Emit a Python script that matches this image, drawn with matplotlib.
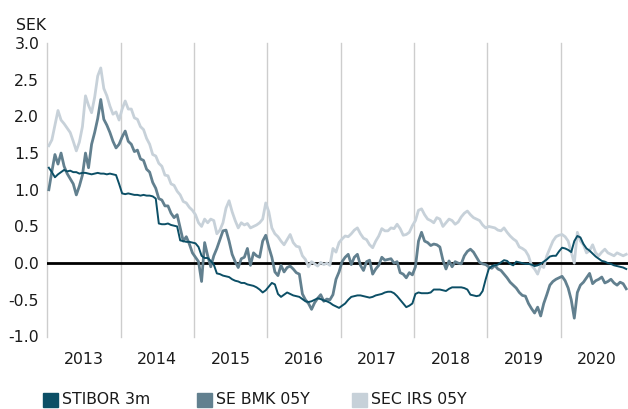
import numpy as np
import matplotlib
matplotlib.use("Agg")
import matplotlib.pyplot as plt
from matplotlib.patches import Rectangle

plt.rcParams["font.family"] = ["DejaVu Sans"]

# Half-monthly fixings, Jan 2013 - Nov 2020 (one row per year)
stibor_3m = [
    1.30, 1.24, 1.17, 1.21, 1.24, 1.27, 1.25, 1.26, 1.24, 1.24, 1.22, 1.23, 1.23, 1.22, 1.21, 1.22, 1.23, 1.22, 1.22, 1.21, 1.22, 1.21, 1.20, 1.08,
    0.95, 0.94, 0.95, 0.94, 0.93, 0.93, 0.92, 0.93, 0.92, 0.92, 0.91, 0.88, 0.54, 0.53, 0.53, 0.54, 0.52, 0.51, 0.50, 0.31, 0.30, 0.29, 0.29, 0.28,
    0.27, 0.22, 0.10, 0.07, 0.07, 0.03, -0.02, -0.14, -0.15, -0.17, -0.18, -0.19, -0.22, -0.24, -0.25, -0.27, -0.27, -0.29, -0.30, -0.31, -0.33, -0.36, -0.40, -0.37,
    -0.32, -0.27, -0.29, -0.42, -0.46, -0.43, -0.40, -0.42, -0.44, -0.45, -0.46, -0.49, -0.52, -0.53, -0.52, -0.50, -0.48, -0.49, -0.51, -0.52, -0.54, -0.57, -0.59, -0.61,
    -0.58, -0.55, -0.50, -0.46, -0.45, -0.44, -0.44, -0.45, -0.46, -0.47, -0.46, -0.44, -0.43, -0.42, -0.40, -0.39, -0.39, -0.41, -0.45, -0.50, -0.55, -0.60, -0.58, -0.55,
    -0.42, -0.40, -0.41, -0.41, -0.41, -0.40, -0.36, -0.36, -0.36, -0.37, -0.38, -0.35, -0.33, -0.33, -0.33, -0.33, -0.34, -0.36, -0.43, -0.44, -0.45, -0.44, -0.38, -0.22,
    -0.08, -0.04, -0.03, -0.02, 0.01, 0.04, 0.03, -0.01, -0.03, 0.02, 0.01, 0.00, -0.01, -0.01, -0.02, -0.04, -0.03, -0.01, 0.02, 0.05, 0.09, 0.10, 0.10, 0.16,
    0.21, 0.20, 0.18, 0.15, 0.30, 0.37, 0.35, 0.26, 0.20, 0.17, 0.13, 0.09, 0.06, 0.03, 0.02, 0.00, -0.01, -0.03, -0.04, -0.05, -0.06, -0.08,
]
se_bmk_05y = [
    1.00, 1.25, 1.48, 1.35, 1.50, 1.32, 1.22, 1.15, 1.08, 0.93, 1.05, 1.20, 1.50, 1.30, 1.62, 1.78, 1.97, 2.23, 1.96, 1.88, 1.78, 1.66, 1.57, 1.62,
    1.72, 1.80, 1.66, 1.62, 1.52, 1.54, 1.42, 1.40, 1.28, 1.24, 1.10, 1.02, 0.88, 0.86, 0.78, 0.78, 0.68, 0.62, 0.66, 0.48, 0.30, 0.36, 0.26, 0.14,
    0.08, 0.02, -0.25, 0.28, 0.10, -0.05, 0.10, 0.20, 0.32, 0.44, 0.45, 0.30, 0.12, 0.02, -0.06, 0.06, 0.08, 0.20, -0.03, 0.14, 0.10, 0.08, 0.30, 0.38,
    0.22, 0.08, -0.12, -0.17, -0.03, -0.12, -0.06, -0.04, -0.08, -0.13, -0.15, -0.42, -0.50, -0.55, -0.63, -0.54, -0.48, -0.43, -0.52, -0.49, -0.50, -0.43, -0.22, -0.12,
    0.02, 0.08, 0.12, -0.02, 0.08, 0.12, -0.03, -0.10, 0.02, 0.04, -0.15, -0.08, -0.03, 0.08, 0.04, 0.05, 0.06, 0.00, 0.02, -0.13, -0.15, -0.20, -0.13, -0.16,
    -0.05, 0.30, 0.42, 0.30, 0.28, 0.24, 0.26, 0.25, 0.22, 0.04, -0.08, 0.03, -0.05, 0.02, 0.00, -0.01, 0.10, 0.16, 0.19, 0.15, 0.08, 0.01, -0.01, -0.02,
    -0.05, -0.07, -0.03, -0.08, -0.10, -0.15, -0.20, -0.26, -0.30, -0.34, -0.40, -0.44, -0.45, -0.55, -0.62, -0.68, -0.60, -0.72, -0.55, -0.43, -0.30, -0.25, -0.22, -0.20,
    -0.18, -0.24, -0.34, -0.50, -0.75, -0.40, -0.30, -0.26, -0.20, -0.14, -0.28, -0.24, -0.22, -0.19, -0.27, -0.25, -0.22, -0.27, -0.30, -0.26, -0.28, -0.35,
]
sec_irs_05y = [
    1.60, 1.68, 1.88, 2.08, 1.95, 1.90, 1.84, 1.78, 1.66, 1.53, 1.65, 1.86, 2.28, 2.15, 2.05, 2.26, 2.55, 2.66, 2.38, 2.28, 2.14, 2.03, 2.06, 1.95,
    2.10, 2.21, 2.10, 2.10, 1.98, 1.96, 1.86, 1.82, 1.70, 1.62, 1.48, 1.46, 1.36, 1.32, 1.20, 1.19, 1.08, 1.06, 0.98, 0.93, 0.84, 0.82, 0.76, 0.72,
    0.66, 0.55, 0.50, 0.60, 0.55, 0.60, 0.58, 0.40, 0.45, 0.55, 0.75, 0.85, 0.70, 0.58, 0.48, 0.55, 0.52, 0.54, 0.48, 0.50, 0.52, 0.55, 0.60, 0.82,
    0.70, 0.48, 0.40, 0.36, 0.30, 0.25, 0.32, 0.39, 0.28, 0.23, 0.22, 0.10, 0.05, -0.05, 0.02, -0.01, -0.04, 0.01, -0.02, 0.00, -0.03, 0.20, 0.15, 0.28,
    0.33, 0.37, 0.36, 0.40, 0.45, 0.48, 0.40, 0.34, 0.32, 0.25, 0.21, 0.30, 0.37, 0.47, 0.44, 0.44, 0.48, 0.47, 0.53, 0.47, 0.38, 0.39, 0.42, 0.51,
    0.58, 0.72, 0.74, 0.66, 0.60, 0.58, 0.55, 0.62, 0.60, 0.50, 0.55, 0.60, 0.58, 0.53, 0.56, 0.63, 0.68, 0.71, 0.66, 0.62, 0.60, 0.58, 0.52, 0.48,
    0.50, 0.49, 0.48, 0.45, 0.44, 0.48, 0.42, 0.37, 0.33, 0.30, 0.22, 0.20, 0.17, 0.10, -0.03, -0.08, -0.15, -0.03, -0.06, 0.10, 0.20, 0.30, 0.36, 0.38,
    0.39, 0.36, 0.30, 0.15, 0.00, 0.42, 0.30, 0.25, 0.14, 0.17, 0.25, 0.14, 0.10, 0.15, 0.19, 0.14, 0.12, 0.10, 0.14, 0.12, 0.10, 0.12,
]

years = [2013, 2014, 2015, 2016, 2017, 2018, 2019, 2020]
y_ticks = [-1.0, -0.5, 0.0, 0.5, 1.0, 1.5, 2.0, 2.5, 3.0]
y_labels = ["-1.0", "-0.5", "0.0", "0.5", "1.0", "1.5", "2.0", "2.5", "3.0"]
series_names = ["STIBOR 3m", "SE BMK 05Y", "SEC IRS 05Y"]
series_colors = ["#0c4f66", "#62808f", "#c7d1d9"]

# decimal-year position of each half-month observation
t = 2013 + (np.arange(len(stibor_3m)) + 0.5) / 24

fig = plt.figure(figsize=(6.28, 4.09), dpi=100)
ax = fig.add_axes([47.3 / 628, 1 - 336.5 / 409, 1 - 47.3 / 628, 293.5 / 409])

for yr in years:
    ax.axvline(yr, color="#cdcdcd", lw=1.0, zorder=0, clip_on=False)
ax.axhline(0, color="black", lw=2.0, zorder=1)

ax.plot(t, sec_irs_05y, color=series_colors[2], lw=2.0, zorder=2)
ax.plot(t, se_bmk_05y, color=series_colors[1], lw=2.0, zorder=3)
ax.plot(t, stibor_3m, color=series_colors[0], lw=1.4, zorder=4)

ax.set_xlim(2013, 2020.92)
ax.set_ylim(-1, 3)
for s in ax.spines.values():
    s.set_visible(False)

ax.set_yticks(y_ticks)
ax.set_yticklabels(y_labels)
ax.set_xticks([y + 0.5 for y in years])
ax.set_xticklabels([str(y) for y in years])
ax.tick_params(axis="y", length=0, pad=5.8, labelsize=11.3, labelcolor="#1a1a1a")
ax.tick_params(axis="x", length=0, pad=11.5, labelsize=11.3, labelcolor="#1a1a1a")

fig.text(16 / 628, 1 - 30 / 409, "SEK", fontsize=11.3, color="#1a1a1a", va="baseline")

# legend row along the bottom edge
leg_x = [43.3, 196.7, 352.0]
for x0, name, col in zip(leg_x, series_names, series_colors):
    fig.patches.append(Rectangle((x0 / 628, 2 / 409), 15 / 628, 14 / 409,
                                 transform=fig.transFigure, color=col, figure=fig))
    fig.text((x0 + 19) / 628, 4.5 / 409, name, fontsize=11.3, color="#1a1a1a", va="baseline")

fig.savefig("out.png", dpi=100)
